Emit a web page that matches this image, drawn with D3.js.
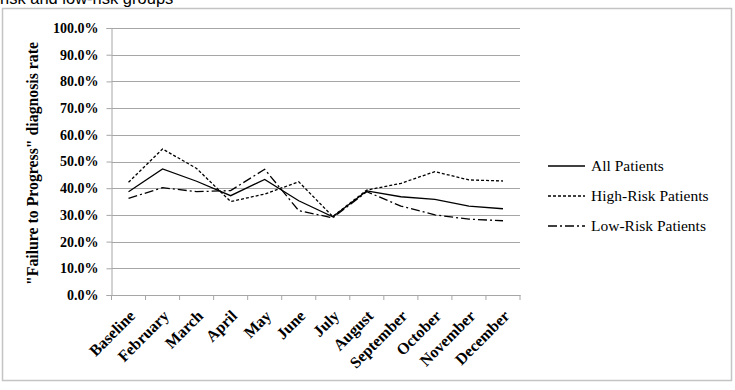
<!DOCTYPE html>
<html>
<head>
<meta charset="utf-8">
<script src="https://cdn.jsdelivr.net/npm/d3@7"></script>
<style>
  body { margin: 0; background: #fff; }
  svg { display: block; }
</style>
</head>
<body>
<script>
// months along the x axis
var months = ['Baseline', 'February', 'March', 'April', 'May', 'June', 'July',
  'August', 'September', 'October', 'November', 'December']

// "Failure to Progress" diagnosis rate, percent
var allPatients = [38.7, 47.2, 42.6, 37.2, 43.3, 35.3, 29.3, 39.0, 36.8, 35.8, 33.3, 32.3]
var highRisk = [42.2, 54.7, 47.4, 35.0, 37.8, 42.4, 29.4, 39.3, 41.8, 46.2, 43.1, 42.7]
var lowRisk = [36.2, 40.2, 38.7, 39.1, 47.1, 31.6, 28.9, 38.7, 33.3, 30.0, 28.4, 27.8]

var yTicks = [0, 10, 20, 30, 40, 50, 60, 70, 80, 90, 100]

var series = [
  {name: 'All Patients', values: allPatients, dash: null},
  {name: 'High-Risk Patients', values: highRisk, dash: '3,2'},
  {name: 'Low-Risk Patients', values: lowRisk, dash: '9,3,2,3'}
]

var W = 735, H = 390
var serif = '"Liberation Serif", "DejaVu Serif", serif'

var svg = d3.select('body').append('svg')
  .attr('width', W)
  .attr('height', H)

// caption cut off at the top of the page
svg.append('text')
  .attr('x', 0)
  .attr('y', 4)
  .style('font-family', 'Liberation Sans, Arial, sans-serif')
  .style('font-size', '16.5px')
  .attr('fill', '#000')
  .text('risk and low-risk groups')

// chart frame
svg.append('rect')
  .attr('x', 2.5)
  .attr('y', 8.5)
  .attr('width', 729)
  .attr('height', 372)
  .attr('fill', 'none')
  .attr('stroke', '#c4c4c4')
  .attr('stroke-width', 1.5)

var plot = {left: 111.5, right: 520, top: 28, bottom: 295}

var x = d3.scaleBand()
  .domain(months)
  .range([plot.left, plot.right])

var y = d3.scaleLinear()
  .domain([0, 100])
  .range([plot.bottom, plot.top])

var g = svg.append('g')

// gridlines
g.selectAll('.grid')
  .data(yTicks.slice(1))
  .enter().append('line')
  .attr('class', 'grid')
  .attr('x1', plot.left)
  .attr('x2', plot.right)
  .attr('y1', d => Math.round(y(d)) + 0.5)
  .attr('y2', d => Math.round(y(d)) + 0.5)
  .attr('stroke', '#a6a6a6')
  .attr('stroke-width', 1)

// y axis
var yAxis = g.append('g')
  .attr('transform', `translate(${plot.left},0)`)
  .call(d3.axisLeft(y)
    .tickValues(yTicks)
    .tickSize(5)
    .tickPadding(8)
    .tickFormat(d => d.toFixed(1) + '%'))

yAxis.selectAll('text')
  .style('font-family', serif)
  .style('font-size', '14px')
  .style('font-weight', 'bold')
  .attr('fill', '#000')

// x axis
var xAxis = g.append('g')
  .attr('transform', `translate(0,${plot.bottom})`)
  .call(d3.axisBottom(x).tickSize(0).tickFormat(''))

xAxis.selectAll('.tick').remove()

// tick marks between categories
xAxis.selectAll('.sep')
  .data(months.concat(['end']))
  .enter().append('line')
  .attr('class', 'sep')
  .attr('x1', (d, i) => i < months.length ? x(d) : plot.right)
  .attr('x2', (d, i) => i < months.length ? x(d) : plot.right)
  .attr('y1', 0)
  .attr('y2', 5)
  .attr('stroke', '#a6a6a6')

xAxis.selectAll('.lbl')
  .data(months)
  .enter().append('text')
  .attr('class', 'lbl')
  .attr('transform', d => `translate(${x(d) + x.bandwidth() / 2 + 3.5},${18}) rotate(-45)`)
  .attr('text-anchor', 'end')
  .attr('dy', '0.35em')
  .style('font-family', serif)
  .style('font-size', '16px')
  .style('font-weight', 'bold')
  .attr('fill', '#000')
  .text(d => d)

svg.selectAll('.domain')
  .attr('stroke', '#a6a6a6')

yAxis.selectAll('.tick line').attr('stroke', '#a6a6a6')

// y axis title
svg.append('text')
  .attr('transform', `translate(38,${(plot.top + plot.bottom) / 2 + 2}) rotate(-90)`)
  .attr('text-anchor', 'middle')
  .style('font-family', serif)
  .style('font-size', '15.8px')
  .style('font-weight', 'bold')
  .attr('fill', '#000')
  .text('"Failure to Progress" diagnosis rate')

// lines
var line = d3.line()
  .x((d, i) => x(months[i]) + x.bandwidth() / 2)
  .y(d => y(d))

g.selectAll('.series')
  .data(series)
  .enter().append('path')
  .attr('class', 'series')
  .attr('d', d => line(d.values))
  .attr('fill', 'none')
  .attr('stroke', '#000')
  .attr('stroke-width', 1.3)
  .attr('stroke-dasharray', d => d.dash)

// legend
var legend = svg.append('g')
  .attr('transform', 'translate(548,166)')

var rows = legend.selectAll('.row')
  .data(series)
  .enter().append('g')
  .attr('class', 'row')
  .attr('transform', (d, i) => `translate(0,${i * 30})`)

rows.append('line')
  .attr('x1', 0)
  .attr('x2', 37)
  .attr('stroke', '#000')
  .attr('stroke-width', 1.3)
  .attr('stroke-dasharray', d => d.dash)

rows.append('text')
  .attr('x', 43)
  .attr('dy', '0.35em')
  .style('font-family', serif)
  .style('font-size', '15.5px')
  .attr('fill', '#000')
  .text(d => d.name)
</script>
</body>
</html>
